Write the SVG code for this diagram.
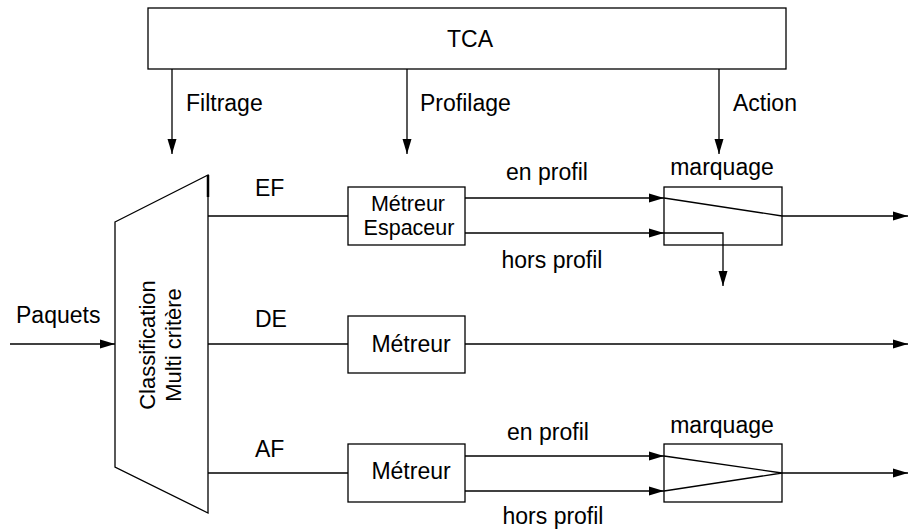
<svg xmlns="http://www.w3.org/2000/svg" width="909" height="531" viewBox="0 0 909 531">
<style>
.ln{stroke:#000;stroke-width:1.3;fill:none}
.bx{stroke:#000;stroke-width:1.3;fill:#fff}
.ar{marker-end:url(#ah)}
text{font-family:"Liberation Sans",Arial,sans-serif;font-size:23px;fill:#000}
.m{text-anchor:middle}
.mid{font-size:21.5px}
.rot{font-size:22px}
</style>
<defs>
<marker id="ah" markerUnits="userSpaceOnUse" markerWidth="16" markerHeight="10" refX="15" refY="5" orient="auto">
<path d="M0,0.5 L15,5 L0,9.5 z" fill="#000"/>
</marker>
</defs>
<rect width="909" height="531" fill="#fff"/>
<g id="connectors">
<line class="ln ar" x1="172" y1="69" x2="172" y2="154"/>
<line class="ln ar" x1="407" y1="69" x2="407" y2="154"/>
<line class="ln ar" x1="719" y1="69" x2="719" y2="154"/>
<line class="ln ar" x1="10" y1="344" x2="115" y2="344"/>
<line class="ln" x1="208" y1="216" x2="348" y2="216"/>
<line class="ln ar" x1="465" y1="198" x2="664" y2="198"/>
<line class="ln ar" x1="465" y1="233" x2="664" y2="233"/>
<line class="ln" x1="208" y1="344" x2="348" y2="344"/>
<line class="ln ar" x1="465" y1="344" x2="908" y2="344"/>
<line class="ln" x1="208" y1="473" x2="348" y2="473"/>
<line class="ln ar" x1="465" y1="456" x2="664" y2="456"/>
<line class="ln ar" x1="465" y1="491" x2="664" y2="491"/>
<line class="ln ar" x1="782" y1="216" x2="908" y2="216"/>
<line class="ln ar" x1="782" y1="473" x2="908" y2="473"/>
</g>
<g id="tca">
<rect class="bx" x="148" y="8" width="638" height="61"/>
<text class="m" x="470" y="47">TCA</text>
</g>
<g id="labels-top">
<text x="186" y="111">Filtrage</text>
<text x="420" y="111">Profilage</text>
<text x="733" y="111">Action</text>
</g>
<g id="paquets">
<text x="16" y="323">Paquets</text>
</g>
<g id="classification">
<polygon class="bx" points="115,222 208,175 208,513 115,467"/>
<line x1="208" y1="175" x2="208" y2="197" stroke="#000" stroke-width="2.5"/>
<text class="m rot" transform="translate(155,345) rotate(-90)">Classification</text>
<text class="m rot" transform="translate(181,345) rotate(-90)">Multi critère</text>
</g>
<g id="flow-labels">
<text x="255" y="196">EF</text>
<text x="255" y="327">DE</text>
<text x="255" y="457">AF</text>
<text class="m" x="547" y="180">en profil</text>
<text class="m" x="552" y="268">hors profil</text>
<text class="m" x="548" y="440">en profil</text>
<text class="m" x="553" y="524">hors profil</text>
</g>
<g id="metreur-espaceur">
<rect class="bx" x="348" y="187" width="117" height="58"/>
<text class="m mid" x="408" y="211">Métreur</text>
<text class="m mid" x="409" y="235">Espaceur</text>
</g>
<g id="marquage-ef">
<rect class="bx" x="664" y="187" width="118" height="58"/>
<text class="m" x="722" y="175">marquage</text>
<polyline class="ln" points="664,198 782,216"/>
<polyline class="ln ar" points="664,233 723,233 723,286"/>
</g>
<g id="metreur-de">
<rect class="bx" x="348" y="316" width="117" height="57"/>
<text class="m" x="411" y="352">Métreur</text>
</g>
<g id="metreur-af">
<rect class="bx" x="348" y="444" width="117" height="58"/>
<text class="m" x="411" y="479">Métreur</text>
</g>
<g id="marquage-af">
<rect class="bx" x="664" y="444" width="118" height="58"/>
<text class="m" x="722" y="433">marquage</text>
<polyline class="ln" points="664,456 782,473 664,491"/>
</g>
</svg>
